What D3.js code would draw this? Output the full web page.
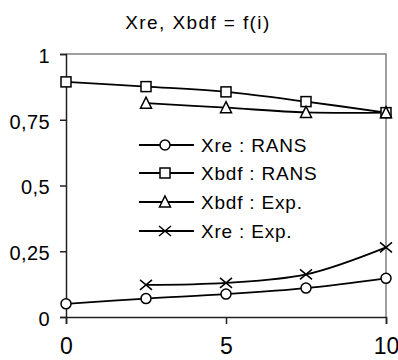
<!DOCTYPE html>
<html>
<head>
<meta charset="utf-8">
<script src="https://cdn.jsdelivr.net/npm/d3@7"></script>
<style>
  html, body { margin: 0; padding: 0; background: #fff; }
  svg { display: block; font-family: "Liberation Sans", Arial, sans-serif; }
</style>
</head>
<body>
<svg id="chart" width="398" height="360"></svg>
<script>
// Stations along i and the four measured / computed series
const iValues = [0, 2.5, 5, 7.5, 10];
const xreRans = [0.05, 0.07, 0.087, 0.11, 0.147];
const xbdfRans = [0.894, 0.876, 0.856, 0.819, 0.777];
const xbdfExp = [null, 0.813, 0.796, 0.778, 0.777];
const xreExp = [null, 0.122, 0.13, 0.162, 0.265];

const xTicks = [0, 5, 10];
const yTicks = [0, 0.25, 0.5, 0.75, 1];
const yTickLabels = ["0", "0,25", "0,5", "0,75", "1"];
const titleText = "Xre, Xbdf = f(i)";

const seriesNames = ["Xre : RANS", "Xbdf : RANS", "Xbdf : Exp.", "Xre : Exp."];
const seriesValues = [xreRans, xbdfRans, xbdfExp, xreExp];
const seriesMarkers = ["circle", "square", "triangle", "cross"];

const svg = d3.select("#chart");
const plot = { left: 66, right: 386, top: 54, bottom: 317 };

const x = d3.scaleLinear().domain([0, 10]).range([plot.left, plot.right]);
const y = d3.scaleLinear().domain([0, 1]).range([plot.bottom, plot.top]);

// Title
svg.append("text")
  .attr("x", 198).attr("y", 29)
  .attr("text-anchor", "middle")
  .attr("font-size", 19)
  .attr("letter-spacing", 1.4)
  .text(titleText);

// Plot frame: grey top and right edges
svg.append("path")
  .attr("d", `M${plot.left},${plot.top}H${plot.right}V${plot.bottom}`)
  .attr("fill", "none").attr("stroke", "#808080").attr("stroke-width", 1.5);

// Y axis
const yAxis = d3.axisLeft(y).tickValues(yTicks)
  .tickFormat((d, i) => yTickLabels[i]).tickSize(6).tickPadding(10);
const gy = svg.append("g").attr("transform", `translate(${plot.left},0)`).call(yAxis);
gy.select(".domain").attr("stroke", "#222").attr("stroke-width", 1.5);
gy.selectAll(".tick line").attr("stroke", "#222").attr("stroke-width", 1.5);
gy.selectAll(".tick text").attr("font-size", 20).attr("fill", "#000")
  .attr("font-family", "Liberation Sans, Arial, sans-serif").attr("dy", "0.42em")
  .attr("letter-spacing", 0.4);

// X axis
const xAxis = d3.axisBottom(x).tickValues(xTicks).tickSize(7).tickPadding(14);
const gx = svg.append("g").attr("transform", `translate(0,${plot.bottom})`).call(xAxis);
gx.select(".domain").attr("stroke", "#222").attr("stroke-width", 1.5);
gx.selectAll(".tick line").attr("stroke", "#222").attr("stroke-width", 1.5);
gx.selectAll(".tick text").attr("font-size", 23).attr("fill", "#000")
  .attr("font-family", "Liberation Sans, Arial, sans-serif");

// Marker shapes
function drawMarker(g, type, cx, cy) {
  const s = 5;
  if (type === "circle") {
    g.append("circle").attr("cx", cx).attr("cy", cy).attr("r", s)
      .attr("fill", "#fff").attr("stroke", "#000").attr("stroke-width", 1.5);
  } else if (type === "square") {
    g.append("rect").attr("x", cx - s).attr("y", cy - s).attr("width", 2 * s).attr("height", 2 * s)
      .attr("fill", "#fff").attr("stroke", "#000").attr("stroke-width", 1.5);
  } else if (type === "triangle") {
    g.append("path").attr("d", `M${cx},${cy - s - 1}L${cx + s + 0.5},${cy + s}L${cx - s - 0.5},${cy + s}Z`)
      .attr("fill", "#fff").attr("stroke", "#000").attr("stroke-width", 1.5);
  } else {
    g.append("path").attr("d", `M${cx - s - 1},${cy - s}L${cx + s + 1},${cy + s}M${cx - s - 1},${cy + s}L${cx + s + 1},${cy - s}`)
      .attr("fill", "none").attr("stroke", "#000").attr("stroke-width", 1.5);
  }
}

// Series lines (smoothed) and markers
const line = d3.line()
  .defined(d => d.v != null)
  .x(d => x(d.i)).y(d => y(d.v))
  .curve(d3.curveCatmullRom.alpha(0.5));

const series = svg.append("g");
seriesValues.forEach((vals, k) => {
  const pts = iValues.map((iv, j) => ({ i: iv, v: vals[j] }));
  series.append("path").datum(pts).attr("d", line)
    .attr("fill", "none").attr("stroke", "#000").attr("stroke-width", 1.8);
});
seriesValues.forEach((vals, k) => {
  iValues.forEach((iv, j) => {
    if (vals[j] != null) drawMarker(series, seriesMarkers[k], x(iv), y(vals[j]));
  });
});

// Legend
const legendRows = [145, 173, 202, 231];
const legend = svg.append("g");
seriesNames.forEach((name, k) => {
  const ly = legendRows[k];
  legend.append("line").attr("x1", 139).attr("x2", 194).attr("y1", ly).attr("y2", ly)
    .attr("stroke", "#000").attr("stroke-width", 1.8);
  drawMarker(legend, seriesMarkers[k], 165, ly);
  legend.append("text").attr("x", 201).attr("y", ly).attr("dy", "0.35em")
    .attr("font-size", 19).attr("letter-spacing", 0.8).text(name);
});
</script>
</body>
</html>
